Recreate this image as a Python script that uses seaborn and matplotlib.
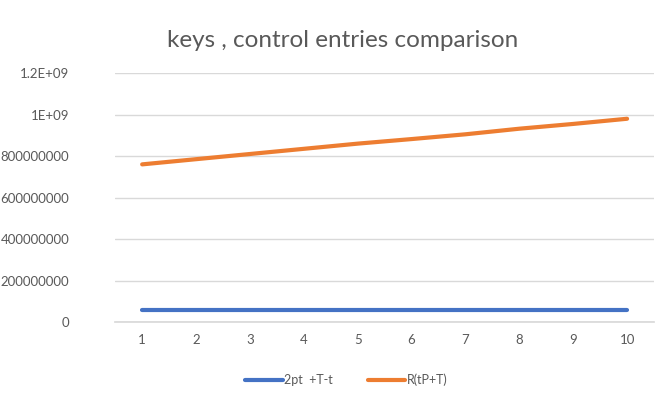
import numpy as np
import pandas as pd
import matplotlib
matplotlib.use("Agg")
import matplotlib.pyplot as plt
import seaborn as sns

# values
x_points = [1, 2, 3, 4, 5, 6, 7, 8, 9, 10]
series_names = ["2pt  +T-t", "R(tP+T)"]
blue_values = [60e6] * 10
orange_values = [760e6, 785e6, 810e6, 835e6, 860e6, 882e6, 905e6, 932e6, 955e6, 980e6]
y_ticks = [0, 200e6, 400e6, 600e6, 800e6, 1.0e9, 1.2e9]
y_tick_labels = ["0", "200000000", "400000000", "600000000", "800000000", "1E+09", "1.2E+09"]
colors = ["#4472C4", "#ED7D31"]

df = pd.DataFrame({
    "x": x_points * 2,
    "value": blue_values + orange_values,
    "series": [series_names[0]] * 10 + [series_names[1]] * 10,
})

sns.set_theme(style="white")
plt.rcParams["font.family"] = ["Lato", "DejaVu Sans"]

fig = plt.figure(figsize=(6.66, 4.04), dpi=100)
ax = fig.add_axes([0.173, 0.203, 0.809, 0.616])

sns.lineplot(data=df, x="x", y="value", hue="series", palette=colors,
             linewidth=3, ax=ax, legend=False)
for line in ax.get_lines():
    line.set_solid_capstyle("round")

ax.set_xlim(0.5, 10.5)
ax.set_ylim(0, 1.2e9)
ax.set_xticks(x_points)
ax.set_xticklabels([str(v) for v in x_points])
ax.set_yticks(y_ticks)
ax.set_yticklabels(y_tick_labels)
ax.tick_params(axis="both", length=0, colors="#595959", labelsize=9.5)
ax.tick_params(axis="y", pad=33)
ax.tick_params(axis="x", pad=9)
ax.set_xlabel("")
ax.set_ylabel("")
ax.grid(axis="y", color="#d9d9d9", linewidth=1)
for side in ["top", "right", "left"]:
    ax.spines[side].set_visible(False)
ax.spines["bottom"].set_color("#d9d9d9")

fig.text(0.515, 0.90, "keys , control entries comparison", ha="center", va="center",
         fontsize=17.5, color="#595959")

handles = [plt.Line2D([0], [0], color=c, linewidth=3) for c in colors]
fig.legend(handles, series_names, loc="center", bbox_to_anchor=(0.52, 0.06), ncol=2,
           frameon=False, fontsize=9, labelcolor="#595959", handlelength=3.0,
           handletextpad=0.1, columnspacing=2.8)

fig.savefig("out.png", dpi=100, facecolor="white")
